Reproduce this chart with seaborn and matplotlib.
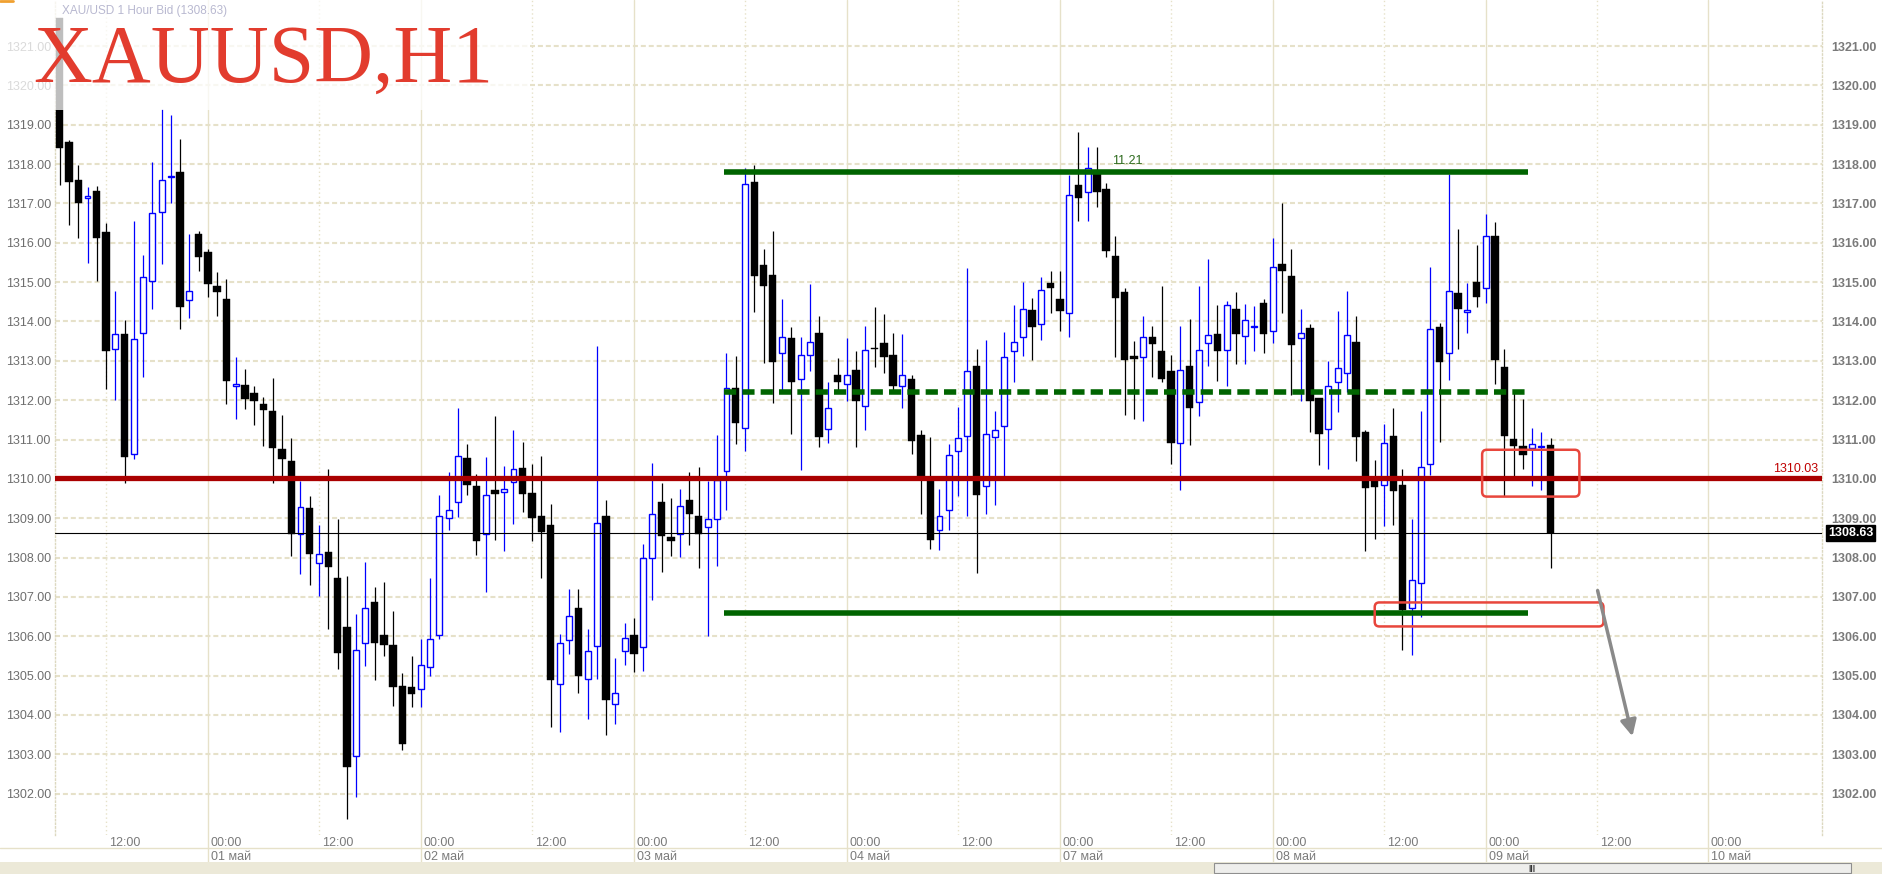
import matplotlib
matplotlib.use("Agg")
import matplotlib.pyplot as plt
import matplotlib.transforms as mtransforms
from matplotlib.lines import Line2D
from matplotlib.patches import Rectangle, FancyBboxPatch
import seaborn as sns

# XAU/USD hourly candles, 30 Apr .. 09 May (one hour per index)
opens = [1321.70, 1318.56, 1317.60, 1317.15, 1317.32, 1316.28, 1313.30, 1313.69, 1310.63, 1313.70,
         1315.02, 1316.78, 1317.66, 1317.79, 1314.54, 1316.23, 1315.77, 1314.91, 1314.57, 1312.37,
         1312.38, 1312.17, 1311.91, 1311.73, 1310.77, 1310.45, 1308.61, 1309.25, 1307.86, 1308.15,
         1307.49, 1306.24, 1302.96, 1305.84, 1306.86, 1306.02, 1305.77, 1304.74, 1304.70, 1304.67,
         1305.23, 1306.02, 1309.01, 1309.40, 1310.54, 1309.83, 1308.61, 1309.73, 1309.66, 1309.91,
         1310.27, 1309.65, 1309.05, 1308.83, 1304.79, 1305.91, 1306.73, 1304.91, 1305.75, 1309.05,
         1304.29, 1305.62, 1306.03, 1305.74, 1307.98, 1309.42, 1308.53, 1308.59, 1309.46, 1309.05,
         1308.78, 1308.98, 1310.19, 1312.30, 1311.30, 1317.55, 1315.43, 1315.18, 1313.19, 1313.58,
         1312.53, 1313.14, 1313.71, 1311.28, 1312.64, 1312.40, 1312.77, 1311.84, 1313.33, 1313.45,
         1313.14, 1312.35, 1312.53, 1311.11, 1310.05, 1308.70, 1309.20, 1310.71, 1311.08, 1312.88,
         1309.81, 1311.06, 1311.35, 1313.26, 1313.60, 1314.28, 1313.93, 1314.99, 1314.56, 1314.21,
         1317.47, 1317.29, 1317.74, 1317.37, 1315.67, 1314.76, 1313.13, 1313.11, 1313.60, 1313.24,
         1312.75, 1310.92, 1312.88, 1311.96, 1313.45, 1313.67, 1313.27, 1314.33, 1313.64, 1313.85,
         1314.48, 1313.76, 1315.47, 1315.16, 1313.58, 1313.84, 1312.06, 1311.28, 1312.46, 1312.68,
         1313.48, 1311.20, 1309.95, 1309.85, 1311.08, 1309.85, 1306.72, 1307.35, 1310.39, 1313.86,
         1313.19, 1314.72, 1314.25, 1315.01, 1314.84, 1316.18, 1312.85, 1311.01, 1310.84, 1310.78,
         1310.80, 1310.85]
highs = [1321.70, 1318.62, 1317.98, 1317.42, 1317.45, 1316.50, 1314.78, 1314.04, 1316.55, 1315.68,
         1318.05, 1319.39, 1319.26, 1318.65, 1316.23, 1316.30, 1315.84, 1315.26, 1315.07, 1313.09,
         1312.80, 1312.36, 1312.09, 1312.57, 1311.63, 1311.05, 1309.95, 1309.56, 1308.83, 1310.24,
         1308.98, 1307.52, 1306.57, 1307.88, 1307.25, 1307.37, 1306.64, 1305.06, 1305.50, 1305.94,
         1307.48, 1309.59, 1310.17, 1311.80, 1310.88, 1310.12, 1310.56, 1311.61, 1310.32, 1311.24,
         1310.94, 1310.38, 1310.58, 1309.37, 1306.07, 1307.20, 1307.20, 1306.19, 1313.38, 1309.46,
         1305.46, 1306.34, 1306.46, 1308.35, 1310.41, 1309.89, 1309.51, 1309.74, 1310.17, 1310.29,
         1309.95, 1311.12, 1313.19, 1313.13, 1317.91, 1317.98, 1315.83, 1316.30, 1314.57, 1313.87,
         1313.60, 1314.96, 1314.15, 1312.45, 1313.08, 1313.58, 1313.24, 1313.88, 1314.36, 1314.18,
         1313.70, 1313.67, 1312.63, 1311.25, 1311.07, 1309.74, 1310.88, 1311.82, 1315.36, 1313.31,
         1313.52, 1311.73, 1313.73, 1314.43, 1315.01, 1314.60, 1315.13, 1315.28, 1315.28, 1317.71,
         1318.81, 1318.44, 1318.44, 1317.51, 1316.16, 1314.84, 1313.50, 1314.15, 1313.89, 1314.89,
         1313.14, 1313.88, 1314.06, 1314.89, 1315.58, 1314.43, 1314.51, 1314.76, 1314.45, 1314.40,
         1314.57, 1316.13, 1317.00, 1315.84, 1314.33, 1313.94, 1312.06, 1313.00, 1314.27, 1314.78,
         1314.15, 1311.24, 1310.47, 1311.40, 1311.81, 1310.24, 1308.98, 1311.73, 1315.39, 1313.97,
         1317.74, 1316.34, 1314.99, 1315.95, 1316.72, 1316.53, 1313.30, 1312.26, 1312.03, 1311.29,
         1311.19, 1311.05]
lows = [1317.46, 1316.44, 1316.13, 1315.49, 1315.04, 1312.29, 1312.00, 1309.90, 1310.50, 1312.58,
        1314.33, 1315.45, 1317.01, 1313.80, 1314.09, 1315.28, 1314.61, 1314.14, 1311.90, 1311.53,
        1311.78, 1311.36, 1310.84, 1309.90, 1310.05, 1308.04, 1307.58, 1307.31, 1307.03, 1306.19,
        1305.16, 1301.35, 1301.92, 1305.24, 1304.90, 1305.49, 1304.23, 1303.11, 1304.21, 1304.21,
        1305.00, 1305.94, 1308.69, 1309.03, 1309.59, 1308.07, 1307.13, 1308.44, 1308.16, 1308.86,
        1309.16, 1308.43, 1307.48, 1303.69, 1303.56, 1305.55, 1304.55, 1303.89, 1304.91, 1303.48,
        1303.78, 1305.28, 1305.10, 1305.12, 1306.91, 1307.64, 1308.04, 1308.02, 1308.31, 1307.74,
        1306.01, 1307.79, 1309.22, 1310.88, 1310.71, 1314.23, 1312.94, 1311.93, 1312.26, 1311.14,
        1310.23, 1312.73, 1310.82, 1310.90, 1312.24, 1311.99, 1310.80, 1311.25, 1312.85, 1312.70,
        1312.24, 1311.79, 1310.63, 1309.10, 1308.22, 1308.19, 1308.69, 1309.56, 1309.05, 1307.62,
        1309.10, 1309.34, 1310.05, 1312.45, 1313.13, 1313.03, 1313.52, 1314.21, 1313.75, 1313.60,
        1316.56, 1316.55, 1316.92, 1315.64, 1313.09, 1311.63, 1311.51, 1311.48, 1312.60, 1312.46,
        1310.39, 1309.73, 1310.85, 1311.61, 1312.88, 1312.48, 1312.36, 1312.93, 1312.93, 1313.24,
        1313.21, 1313.46, 1314.21, 1312.12, 1311.97, 1311.20, 1310.36, 1310.24, 1311.69, 1312.21,
        1310.45, 1308.16, 1308.47, 1308.81, 1308.83, 1305.64, 1305.52, 1306.50, 1310.09, 1310.94,
        1312.51, 1313.31, 1313.72, 1314.36, 1314.48, 1312.41, 1309.56, 1310.05, 1310.24, 1309.81,
        1309.71, 1307.74]
closes = [1318.41, 1317.54, 1317.01, 1317.18, 1316.13, 1313.24, 1313.67, 1310.56, 1313.55, 1315.13,
          1316.75, 1317.59, 1317.69, 1314.38, 1314.78, 1315.63, 1314.94, 1314.74, 1312.48, 1312.39,
          1312.02, 1311.97, 1311.76, 1310.78, 1310.50, 1308.59, 1309.29, 1308.08, 1308.10, 1307.76,
          1305.58, 1302.69, 1305.66, 1306.73, 1305.84, 1305.78, 1304.72, 1303.25, 1304.54, 1305.26,
          1305.94, 1309.05, 1309.22, 1310.57, 1309.85, 1308.43, 1309.59, 1309.61, 1309.74, 1310.24,
          1309.61, 1309.01, 1308.66, 1304.90, 1305.84, 1306.52, 1304.98, 1305.63, 1308.87, 1304.39,
          1304.57, 1305.96, 1305.56, 1307.99, 1309.10, 1308.54, 1308.43, 1309.31, 1309.11, 1308.61,
          1308.98, 1309.98, 1312.30, 1311.41, 1317.49, 1315.15, 1314.91, 1312.97, 1313.60, 1312.46,
          1313.16, 1313.49, 1311.07, 1311.79, 1312.46, 1312.65, 1311.97, 1313.27, 1313.29, 1313.11,
          1312.35, 1312.63, 1310.97, 1310.05, 1308.44, 1309.05, 1310.60, 1311.03, 1312.75, 1309.60,
          1311.13, 1311.23, 1313.09, 1313.49, 1314.31, 1313.86, 1314.79, 1314.84, 1314.26, 1317.21,
          1317.15, 1317.90, 1317.29, 1315.78, 1314.59, 1313.02, 1313.04, 1313.60, 1313.44, 1312.55,
          1310.90, 1312.77, 1311.79, 1313.27, 1313.65, 1313.24, 1314.43, 1313.67, 1314.05, 1313.87,
          1313.67, 1315.38, 1315.28, 1313.39, 1313.70, 1311.97, 1311.13, 1312.35, 1312.83, 1313.65,
          1311.06, 1309.78, 1309.79, 1310.92, 1309.68, 1306.68, 1307.42, 1310.29, 1313.80, 1312.96,
          1314.78, 1314.33, 1314.27, 1314.61, 1316.16, 1313.03, 1311.09, 1310.84, 1310.60, 1310.88,
          1310.82, 1308.63]

# time axis (candle index of each label)
hour_ticks = [5, 28, 51, 74, 97, 120, 143, 166]
day_ticks = [16, 39, 62, 85, 108, 131, 154, 178]
day_labels = ["01 май", "02 май", "03 май", "04 май", "07 май", "08 май", "09 май", "10 май"]
price_ticks = list(range(1302, 1322))

# drawn levels
last_price = 1308.63
red_level = 1310.03
green_top = 1317.81
green_mid = 1312.21
green_low = 1306.60
green_from, green_to = 71.7, 158.5
range_text = "11.21"
box_upper = (153.6, 164.1, 1309.55, 1310.74)
box_lower = (142.0, 166.7, 1306.25, 1306.86)
arrow_from = (166.0, 1307.23)
arrow_to = (169.9, 1303.39)

sns.set_theme(style="white")
plt.rcParams["font.family"] = ["Liberation Sans", "DejaVu Sans"]

W, H = 1883, 874
fig = plt.figure(figsize=(W / 100, H / 100), dpi=100, facecolor="white")
ax = fig.add_axes([55 / W, 39 / H, (1822 - 55) / W, 835 / H])
ax.set_facecolor("white")
ax.set_xlim(-0.51, 190.3)
ax.set_ylim(1300.95, 1322.17)

grid_c = "#e6e1c9"
for p in price_ticks:
    ax.axhline(p, color=grid_c, lw=1.5, ls=(0, (2.4, 1.4)), zorder=1)
for d in day_ticks:
    ax.axvline(d, ymin=-27 / 835, ymax=1, color=grid_c, lw=1.0, zorder=1, clip_on=False)
for h in hour_ticks:
    ax.axvline(h, color=grid_c, lw=1.0, ls=(0, (1, 2)), zorder=1)

for s in ax.spines.values():
    s.set_visible(False)
for side in ["left", "right"]:
    ax.spines[side].set_visible(True)
    ax.spines[side].set_color("#dcd8c0")
    ax.spines[side].set_linestyle(":")
    ax.spines[side].set_linewidth(1.0)

# candles
idx = list(range(len(opens)))
up = [c >= o for o, c in zip(opens, closes)]
ax.vlines(idx, lows, highs, colors=["#0000ff" if u else "black" for u in up], lw=0.9, zorder=3)
xu = [i for i in idx if up[i]]
ax.bar(xu, [max(closes[i] - opens[i], 0.03) for i in xu], bottom=[opens[i] for i in xu],
       width=0.64, facecolor="white", edgecolor="#0000ff", lw=1.0, zorder=4)
xd = [i for i in idx if not up[i]]
ax.bar(xd, [opens[i] - closes[i] for i in xd], bottom=[closes[i] for i in xd],
       width=0.8, color="black", edgecolor="black", lw=0.3, zorder=4)

# levels
ax.axhline(last_price, color="black", lw=0.8, zorder=5)
ax.axhline(red_level, color="#aa0000", lw=3.8, zorder=6)
ax.text(189.9, red_level + 0.08, f"{red_level:.2f}", ha="right", va="bottom",
        fontsize=9, color="#c00000", zorder=6)
ax.hlines([green_top, green_low], green_from, green_to, color="#006400", lw=4, zorder=6)
ax.hlines(green_mid, green_from, green_to, color="#006400", lw=4, ls=(0, (2.2, 1.1)), zorder=6)
ax.text(113.6, green_top + 0.12, range_text, fontsize=9, color="#2e6b1e", va="bottom", zorder=6)

for x0, x1, y0, y1 in [box_upper, box_lower]:
    ax.add_patch(FancyBboxPatch((x0, y0), x1 - x0, y1 - y0,
                                boxstyle="round,pad=0,rounding_size=0.5", mutation_aspect=0.2354,
                                facecolor="none", edgecolor="#e8463c", lw=1.8, zorder=7))
ax.annotate("", xy=arrow_to, xytext=arrow_from,
            arrowprops=dict(arrowstyle="-|>,head_length=0.8,head_width=0.4",
                            color="#8a8a8a", lw=2.5), zorder=7)

# price axes
ax.set_xticks([])
ax.set_yticks(price_ticks)
ax.set_yticklabels([f"{p:.2f}" for p in price_ticks])
ax.tick_params(axis="y", length=0, pad=3, labelsize=9, labelcolor="#6e6e6e")
sec = ax.secondary_yaxis("right")
sec.set_yticks(price_ticks)
sec.set_yticklabels([f"{p:.2f}" for p in price_ticks])
sec.tick_params(length=0, pad=6.5, labelsize=9, labelcolor="#7a7a7a")
sec.spines["right"].set_visible(False)
for t in sec.get_yticklabels():
    t.set_fontweight("bold")

ax.text(1.0034, last_price, f"{last_price:.2f}",
        transform=mtransforms.blended_transform_factory(ax.transAxes, ax.transData),
        color="white", fontsize=9, fontweight="bold", ha="left", va="center", clip_on=False,
        bbox=dict(boxstyle="square,pad=0.15", facecolor="black", edgecolor="black"), zorder=8)

# time axis labels
trans = mtransforms.blended_transform_factory(ax.transData, ax.transAxes)
for h in hour_ticks:
    ax.text(h + 0.3, -8 / 835, "12:00", transform=trans, ha="left", va="center",
            fontsize=9, color="#7a7a7a", clip_on=False)
for d, lab in zip(day_ticks, day_labels):
    ax.text(d + 0.3, -8 / 835, "00:00", transform=trans, ha="left", va="center",
            fontsize=9, color="#7a7a7a", clip_on=False)
    ax.text(d + 0.3, -22.5 / 835, lab, transform=trans, ha="left", va="center",
            fontsize=9, color="#7a7a7a", clip_on=False)
fig.add_artist(Line2D([0, 1], [1 - 848 / H] * 2, color=grid_c, lw=1.0))

# scroll bar strip
fig.add_artist(Rectangle((0, 0), 1, 12 / H, transform=fig.transFigure,
                         facecolor="#ece9d8", edgecolor="none", zorder=10))
fig.add_artist(Rectangle((1214 / W, 1 / H), (1851 - 1214) / W, 10 / H, transform=fig.transFigure,
                         facecolor="#eeeeec", edgecolor="#8f8f8f", lw=0.8, zorder=11))
fig.text(1532 / W, 6 / H, "|||", fontsize=6, color="#333333", ha="center", va="center",
         fontweight="bold", zorder=12)

# faded header box and title
fig.add_artist(Rectangle((0, 1 - 110 / H), 527 / W, 110 / H, transform=fig.transFigure,
                         facecolor="white", alpha=0.75, edgecolor="none", zorder=5))
fig.add_artist(Line2D([0, 13 / W], [1 - 1 / H] * 2, color="#f0a030", lw=2, zorder=6))
fig.text(62 / W, 1 - 11 / H, f"XAU/USD 1 Hour Bid ({last_price:.2f})", fontsize=8.5,
         color="#b8b8d0", va="center", zorder=6)
fig.text(33 / W, 1 - 82 / H, "XAUUSD,H1", family="Liberation Serif", fontsize=58.7,
         color="#e23c2e", va="baseline", zorder=6)

fig.savefig("out.png", dpi=100, facecolor="white")
